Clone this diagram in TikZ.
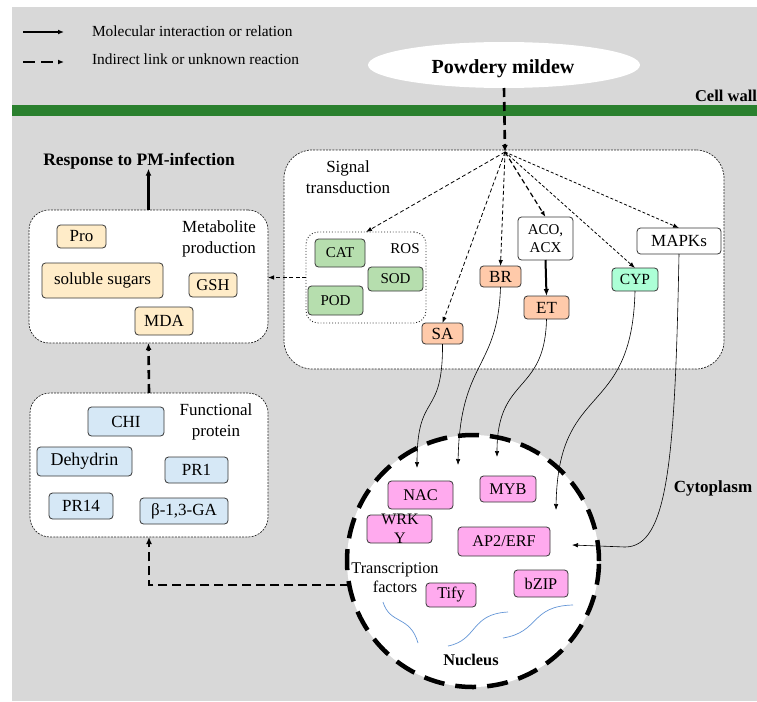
\documentclass[tikz,border=0pt]{standalone}
\usepackage{fontspec}
\setmainfont{Liberation Serif}
\usetikzlibrary{arrows.meta,shapes.geometric}
\definecolor{bggray}{RGB}{216,216,216}
\definecolor{wallgreen}{RGB}{42,128,46}
\definecolor{rosgreen}{RGB}{182,222,174}
\definecolor{hormone}{RGB}{255,202,170}
\definecolor{mint}{RGB}{172,255,214}
\definecolor{tfpink}{RGB}{255,170,238}
\definecolor{metyel}{RGB}{255,236,200}
\definecolor{protblue}{RGB}{214,232,246}
\definecolor{wavecol}{RGB}{100,150,215}
\definecolor{edgecol}{RGB}{55,55,55}
\begin{document}
\begin{tikzpicture}[x=1pt,y=-1pt,
  every node/.style={inner sep=0pt, outer sep=0pt},
  fa/.style={font=\fontsize{15}{18}\selectfont},
  fb/.style={font=\fontsize{17}{20.5}\selectfont},
  fc/.style={font=\fontsize{16.3}{19}\selectfont},
  sbox/.style={draw=edgecol, line width=0.8pt, rounded corners=3.5pt},
  rosbox/.style={sbox, fill=rosgreen, fa},
  hbox/.style={sbox, fill=hormone, font=\fontsize{17}{20}\selectfont},
  mbox/.style={sbox, fill=metyel, fb},
  pbox/.style={sbox, fill=protblue, fb},
  tbox/.style={sbox, fill=tfpink, fc},
  bigbox/.style={draw=black!85, line width=0.7pt, dash pattern=on 2pt off 1.2pt, fill=white},
  tipS/.style={-{Latex[length=6pt,width=4.5pt]}},
  thindash/.style={line width=0.8pt, dash pattern=on 4pt off 2.5pt, tipS},
  thickdash/.style={line width=2.6pt, dash pattern=on 9pt off 5pt, -{Latex[length=7pt,width=6pt]}},
  curvearrow/.style={line width=0.6pt, -{Latex[length=6pt,width=4.5pt]}},
  wave/.style={wavecol, line width=0.7pt}
]
\useasboundingbox (0,0) rectangle (757,701);
\fill[bggray] (12,7) rectangle (757,701);
\fill[wallgreen] (12,105) rectangle (757,116);

% legend
\coordinate (la1) at (23,32); \coordinate (la2) at (64,32);
\draw[line width=1.5pt, -{Latex[length=6pt,width=5pt]}] (la1) -- (la2);
\coordinate (lb1) at (23,62); \coordinate (lb2) at (64,62);
\draw[line width=1.5pt, dash pattern=on 12pt off 6pt, -{Latex[length=6pt,width=5pt]}] (lb1) -- (lb2);
\node[anchor=base west, font=\fontsize{15.4}{18}\selectfont] (lt1) at (92,37) {Molecular interaction or relation};
\node[anchor=base west, font=\fontsize{15.4}{18}\selectfont] (lt2) at (92,65) {Indirect link or unknown reaction};

% pathogen and cell wall
\node[ellipse, fill=white, minimum width=272, minimum height=46] (pm) at (504,65) {};
\node[anchor=base, font=\bfseries\fontsize{20}{22}\selectfont] (pmt) at (503,74) {Powdery mildew};
\node[anchor=base, font=\bfseries\fontsize{16.5}{20}\selectfont] (cw) at (726,101) {Cell wall};

% big boxes
\node[bigbox, rounded corners=28pt, minimum width=440, minimum height=219] (sig) at (504,259.5) {};
\node[bigbox, rounded corners=20pt, minimum width=239, minimum height=133] (met) at (148.5,276.5) {};
\node[bigbox, rounded corners=20pt, minimum width=238, minimum height=144] (fun) at (149,465) {};
\node[draw=black!85, dotted, line width=0.9pt, fill=white, rounded corners=12pt, minimum width=120, minimum height=91] (ros) at (366,277.5) {};

% labels
\node[fb, align=center] (sigt) at (348,177) {Signal\\transduction};
\node[fa, anchor=base] (rost) at (405,253) {ROS};
\node[fb, align=center] (mett) at (219,239) {Metabolite\\production};
\node[fb, align=center] (funt) at (216,422) {Functional\\protein};
\node[anchor=base, font=\bfseries\fontsize{17.5}{20}\selectfont] (resp) at (139,165) {Response to PM-infection};

% ROS members
\node[rosbox, minimum width=50, minimum height=28] (cat) at (340,253) {CAT};
\node[rosbox, minimum width=55, minimum height=24] (sod) at (395.5,279) {SOD};
\node[rosbox, minimum width=55, minimum height=29] (pod) at (335.5,300.5) {POD};

% signal members
\node[hbox, minimum width=41, minimum height=21] (sa) at (442.5,333.5) {SA};
\node[hbox, minimum width=41, minimum height=21] (br) at (500.5,276.5) {BR};
\node[sbox, fill=white, fa, align=center, minimum width=55, minimum height=43] (aco) at (545.5,238.5) {ACO,\\ACX};
\node[hbox, minimum width=45, minimum height=23] (et) at (546.5,307.5) {ET};
\node[sbox, fill=mint, font=\fontsize{15.5}{18}\selectfont, minimum width=46, minimum height=23] (cyp) at (635,279.5) {CYP};
\node[sbox, fill=white, fb, minimum width=84, minimum height=26] (mapk) at (679,241) {MAPKs};

% metabolites
\node[mbox, minimum width=49, minimum height=23] (pro) at (81.5,236.5) {Pro};
\node[mbox, minimum width=121, minimum height=35] (sug) at (102.5,280.5) {soluble sugars};
\node[mbox, font=\fontsize{16.5}{19}\selectfont, minimum width=48, minimum height=24] (gsh) at (213,285) {GSH};
\node[mbox, minimum width=58, minimum height=28] (mda) at (164,321) {MDA};

% proteins
\node[pbox, minimum width=76, minimum height=29] (chi) at (126,421.5) {CHI};
\node[pbox, font=\fontsize{18}{21}\selectfont, minimum width=95, minimum height=29] (deh) at (84.5,461.5) {Dehydrin};
\node[pbox, minimum width=63, minimum height=26] (pr1) at (196.5,470) {PR1};
\node[pbox, minimum width=64, minimum height=26] (pr14) at (81,506) {PR14};
\node[pbox, minimum width=88, minimum height=26] (bga) at (184,511) {β-1,3-GA};

% nucleus
\node[circle, draw=black, fill=white, line width=4.5pt, dash pattern=on 21pt off 11pt, minimum size=252] (nuc) at (473,561) {};
\node[tbox, minimum width=65, minimum height=28] (nac) at (420.5,495) {NAC};
\node[tbox, minimum width=56, minimum height=26] (myb) at (508,489) {MYB};
\node[tbox, minimum width=65, minimum height=28] (wrky) at (399.5,529) {};
\node[align=center, font=\fontsize{16}{19}\selectfont] (wrkyt) at (400,529) {WRK\\Y};
\node[tbox, minimum width=92, minimum height=29] (ap2) at (504,541.5) {AP2/ERF};
\node[tbox, minimum width=54, minimum height=27] (bzip) at (541,583.5) {bZIP};
\node[tbox, minimum width=50, minimum height=24] (tify) at (451,595) {Tify};
\node[fc, align=center] (tft) at (395,578) {Transcription\\factors};
\node[anchor=base, font=\bfseries\fontsize{16.3}{19}\selectfont] (nuct) at (471,665) {Nucleus};
\node[anchor=base, font=\bfseries\fontsize{17}{20}\selectfont] (cyto) at (713,492) {Cytoplasm};

% DNA waves
\draw[wave] (383,602) .. controls (390,625) and (410,615) .. (418,643);
\draw[wave] (448,646) .. controls (478,640) and (470,614) .. (508,612);
\draw[wave] (503,638) .. controls (540,632) and (530,606) .. (573,605);

% signalling arrows
\coordinate (hub) at (505,152);
\draw[thickdash] (pm.south) -- (hub);
\draw[thindash] (hub) -- (ros.north);
\draw[thindash] (hub) -- (sa.north);
\draw[thindash] (hub) -- (br.north);
\draw[line width=1.2pt, dash pattern=on 5pt off 3pt, tipS] (hub) -- (aco.north);
\draw[thindash, dash pattern=on 3pt off 2pt] (hub) -- (cyp.north);
\draw[thindash, dash pattern=on 3pt off 2pt] (hub) -- (mapk.north);
\draw[line width=2pt, -{Latex[length=7pt,width=5.5pt]}] (aco.south) -- (et.north);
\draw[line width=0.8pt, dash pattern=on 4pt off 2.5pt, tipS] (ros.west) -- (ros.west -| met.east);
\draw[line width=2.4pt, -{Latex[length=7pt,width=6pt]}] (met.north) -- (met.north |- resp.south);
\draw[thickdash] (fun.north) -- (met.south);
\draw[thickdash] (nuc.191) -| (fun.south);

% curved connectors into nucleus
\coordinate (tsa) at (417,468);
\coordinate (tbr) at (458,465);
\coordinate (tet) at (497,457);
\coordinate (tcyp) at (556,510);
\coordinate (tmapk) at (572,545);
\draw[curvearrow] (sa.south) .. controls (443,420) and (417,390) .. (tsa);
\draw[curvearrow] (br.south) .. controls (498,370) and (460,360) .. (tbr);
\draw[curvearrow] (et.south) .. controls (545,395) and (497,375) .. (tet);
\draw[curvearrow] (cyp.south) .. controls (632,420) and (558,380) .. (tcyp);
\draw[curvearrow] (mapk.south) .. controls (675,460) and (668,547) .. (625,547) -- (tmapk);
\end{tikzpicture}
\end{document}
